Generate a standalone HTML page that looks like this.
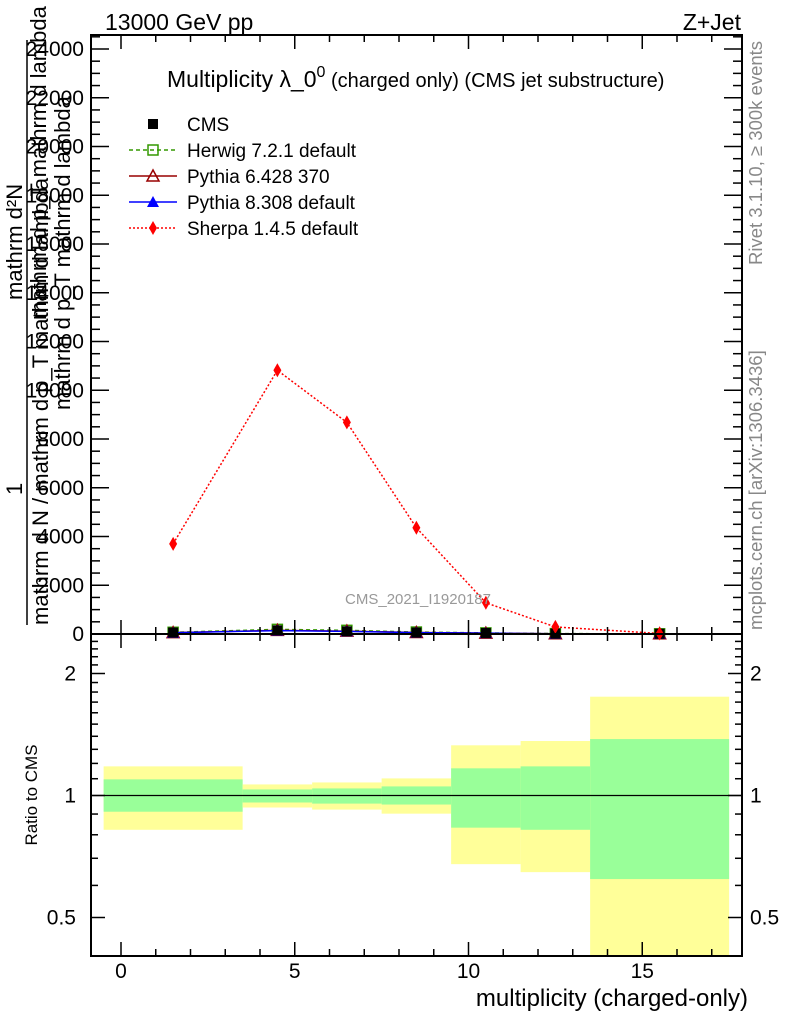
<!DOCTYPE html>
<html><head><meta charset="utf-8"><style>
body{margin:0;background:#fff;}
svg{display:block;font-family:"Liberation Sans",sans-serif;}
</style></head><body>
<svg id="c" width="786" height="1024" viewBox="0 0 786 1024">
<rect width="786" height="1024" fill="#fff"/>
<g id="ratio"></g>
<g id="main"></g>
<g id="axes"></g>
<text x="105" y="30" font-size="23">13000 GeV pp</text>
<text x="741" y="30" font-size="23" text-anchor="end">Z+Jet</text>
<text x="167" y="87" font-size="23">Multiplicity λ_0<tspan font-size="16" dy="-10">0</tspan><tspan font-size="20" dy="10"> (charged only) (CMS jet substructure)</tspan></text>
<text x="418" y="604" font-size="15" fill="#999" text-anchor="middle">CMS_2021_I1920187</text>
<text transform="translate(762,265) rotate(-90)" font-size="18.5" fill="#888">Rivet 3.1.10, ≥ 300k events</text>
<text transform="translate(762,630) rotate(-90)" font-size="18.5" fill="#888">mcplots.cern.ch [arXiv:1306.3436]</text>
<g font-size="22">
<text transform="translate(22,300) rotate(-90)">mathrm d²N</text>
<text transform="translate(22,495) rotate(-90)">1</text>
<line x1="27" y1="625" x2="27" y2="40" stroke="#000" stroke-width="1.5"/>
<text transform="translate(46,320) rotate(-90)">mathrm d p_T mathrm d lambda</text>
<text transform="translate(48,625) rotate(-90)">mathrm d N / mathrm d p_T mathrm d lambda</text>
<text transform="translate(70,410) rotate(-90)">mathrm d p_T mathrm d lambda</text>
</g>
<text transform="translate(37,795) rotate(-90)" font-size="17" text-anchor="middle">Ratio to CMS</text>
<text x="748" y="1006" font-size="24" text-anchor="end">multiplicity (charged-only)</text>
<g id="legend"></g>
</svg>
<script>
const binCenters=[1.5,4.5,6.5,8.5,10.5,12.5,15.5];
const binEdges=[-0.5,3.5,5.5,7.5,9.5,11.5,13.5,17.5];
const cmsVals=[60,150,110,60,40,15,10];
const herwigVals=[70,190,150,80,45,15,8];
const pythia6Vals=[55,150,120,60,35,12,8];
const pythia8Vals=[50,140,110,55,35,12,8];
const sherpaVals=[3700,10820,8680,4360,1280,290,20];
const yTicks=[0,2000,4000,6000,8000,10000,12000,14000,16000,18000,20000,22000,24000];
const bandYellowHi=[1.18,1.065,1.077,1.102,1.33,1.363,1.753];
const bandYellowLo=[0.823,0.934,0.923,0.902,0.677,0.647,0.40];
const bandGreenHi=[1.096,1.035,1.041,1.053,1.167,1.18,1.378];
const bandGreenLo=[0.912,0.961,0.955,0.950,0.833,0.823,0.622];
const ratioTicks=[0.5,1,2];

const NS="http://www.w3.org/2000/svg";
const L=91,R=742,T=35,MB=634,RB=956;
const X=v=>121+v*34.75;
const Y=v=>MB-v*(MB-49)/24000;
const RY=v=>795.5-Math.log2(v)*122;
function mk(tag,attrs,parent){const e=document.createElementNS(NS,tag);for(const k in attrs)e.setAttribute(k,attrs[k]);parent.appendChild(e);return e;}
const ratio=document.getElementById('ratio'),main=document.getElementById('main'),axes=document.getElementById('axes'),legend=document.getElementById('legend');

for(let i=0;i<binCenters.length;i++){
  const x1=X(binEdges[i]),x2=X(binEdges[i+1]);
  let r=mk('rect',{x:x1,y:Math.max(RY(bandYellowHi[i]),MB),width:x2-x1,height:Math.min(RY(bandYellowLo[i]),RB)-Math.max(RY(bandYellowHi[i]),MB),fill:'#ffff99'},ratio);
  
  
  r=mk('rect',{x:x1,y:RY(bandGreenHi[i]),width:x2-x1,height:RY(bandGreenLo[i])-RY(bandGreenHi[i]),fill:'#99ff99'},ratio);
  
  
}
mk('line',{x1:L,x2:R,y1:RY(1),y2:RY(1),stroke:'#000','stroke-width':1.2},ratio);

function series(vals,color,dash,marker,name){
  const g=mk('g',{},main);
  
  
  const pts=binCenters.map((c,i)=>X(c)+','+Y(vals[i])).join(' ');
  mk('polyline',{points:pts,fill:'none',stroke:color,'stroke-width':1.5,'stroke-dasharray':dash},g);
  binCenters.forEach((c,i)=>{drawMarker(g,X(c),Y(vals[i]),marker,color);});
}
function drawMarker(g,x,y,m,color){
  let e;
  if(m==='sq')e=mk('rect',{x:x-5,y:y-5,width:10,height:10,fill:'#000'},g);
  else if(m==='osq')e=mk('rect',{x:x-5,y:y-5,width:10,height:10,fill:'none',stroke:color,'stroke-width':1.5},g);
  else if(m==='otri')e=mk('polygon',{points:`${x},${y-6} ${x-6},${y+5} ${x+6},${y+5}`,fill:'none',stroke:color,'stroke-width':1.5},g);
  else if(m==='tri')e=mk('polygon',{points:`${x},${y-6} ${x-6},${y+5} ${x+6},${y+5}`,fill:color},g);
  else e=mk('polygon',{points:`${x},${y-7} ${x-4},${y} ${x},${y+7} ${x+4},${y}`,fill:color},g);
  
  
}
series(herwigVals,'#339900','4,3','osq','herwig-series');
series(pythia6Vals,'#990000','none','otri','pythia6-series');
series(pythia8Vals,'#0000ff','none','tri','pythia8-series');
{const g=mk('g',{},main);
 
 
 binCenters.forEach((c,i)=>drawMarker(g,X(c),Y(cmsVals[i]),'sq','#000'));}
series(sherpaVals,'#ff0000','2,2','dia','sherpa-series');

mk('rect',{x:L,y:T,width:R-L,height:MB-T,fill:'none',stroke:'#000','stroke-width':2},axes);
mk('rect',{x:L,y:MB,width:R-L,height:RB-MB,fill:'none',stroke:'#000','stroke-width':2},axes);
for(let v=-1;v<=17;v++){
  const x=X(v);if(x<L||x>R)continue;
  const len=v%5===0?14:7;
  [[MB,-1],[T,1],[RB,-1],[MB,1]].forEach(([y,d])=>mk('line',{x1:x,x2:x,y1:y,y2:y+d*len,stroke:'#000','stroke-width':1.5},axes));
  if(v%5===0){const t=mk('text',{x:x,y:978,'font-size':21,'text-anchor':'middle'},axes);t.textContent=v;
   
   }
}
for(let v=0;v<=24500;v+=500){
  const y=Y(v);if(y<T)continue;
  const len=v%2000===0?18:9;
  mk('line',{x1:L,x2:L+len,y1:y,y2:y,stroke:'#000','stroke-width':1.5},axes);
  mk('line',{x1:R,x2:R-len,y1:y,y2:y,stroke:'#000','stroke-width':1.5},axes);
}
yTicks.forEach(v=>{const t=mk('text',{x:84,y:Y(v)+7,'font-size':21,'text-anchor':'end'},axes);t.textContent=v;
  
  });
const minors=[0.4,0.5,0.6,0.7,0.8,0.9,1,1.1,1.2,1.3,1.4,1.5,1.6,1.7,1.8,1.9,2,2.1,2.2,2.3,2.4,2.5];
minors.forEach(v=>{const y=RY(v);if(y<MB||y>RB)return;const len=ratioTicks.includes(v)?14:7;
  mk('line',{x1:L,x2:L+len,y1:y,y2:y,stroke:'#000','stroke-width':1.5},axes);
  mk('line',{x1:R,x2:R-len,y1:y,y2:y,stroke:'#000','stroke-width':1.5},axes);});
ratioTicks.forEach(v=>{
  let t=mk('text',{x:76,y:RY(v)+7,'font-size':21,'text-anchor':'end'},axes);t.textContent=v;
  
  
  t=mk('text',{x:750,y:RY(v)+7,'font-size':21},axes);t.textContent=v;
  
  });

const legNames=['CMS','Herwig 7.2.1 default','Pythia 6.428 370','Pythia 8.308 default','Sherpa 1.4.5 default'];
const legColors=['#000','#339900','#990000','#0000ff','#ff0000'];
const legDash=[null,'4,3','none','none','2,2'];
const legMark=['sq','osq','otri','tri','dia'];
legNames.forEach((n,i)=>{
  const y=124+i*26;
  const g=mk('g',{},legend);
  
  
  if(legDash[i])mk('line',{x1:129,x2:177,y1:y,y2:y,stroke:legColors[i],'stroke-width':1.5,'stroke-dasharray':legDash[i]},g);
  drawMarker(g,153,y,legMark[i],legColors[i]);
  const t=mk('text',{x:187,y:y+7,'font-size':19},g);t.textContent=n;
});
</script>
</body></html>
